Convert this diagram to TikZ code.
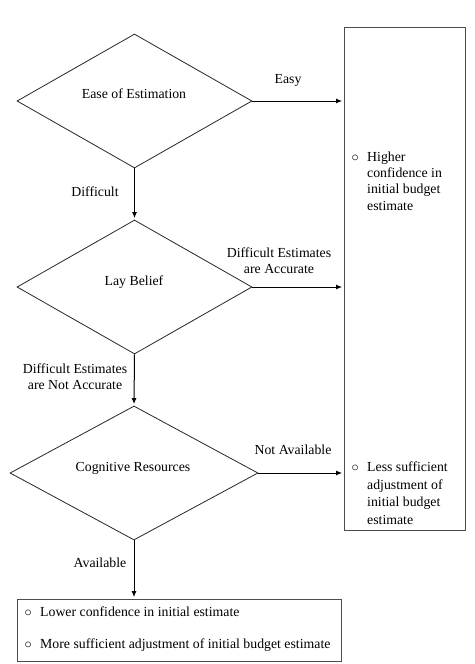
\documentclass[tikz,border=0pt]{standalone}
\usepackage{fontspec}
\setmainfont{Liberation Serif}
\usetikzlibrary{shapes.geometric,arrows.meta}
\newcommand{\bul}[1]{\makebox[#1][l]{$\circ$}}
\begin{document}
\begin{tikzpicture}[x=1pt,y=-1pt,
  font=\fontsize{13.8}{16.3}\selectfont,
  dia/.style={draw=black!85,line width=0.8pt,diamond,inner sep=0pt,minimum height=134pt},
  box/.style={draw=black!70,line width=0.8pt,rectangle,inner sep=0pt},
  arr/.style={line width=1pt,-{Latex[length=6pt,width=5pt]},shorten >=1.5pt},
  lbl/.style={inner sep=0pt,align=center},
  bl/.style={inner sep=0pt,anchor=base},
  btxt/.style={inner sep=0pt,align=left,anchor=north west}]
\useasboundingbox (0,0) rectangle (474,664);
% diamonds
\node[dia,minimum width=235pt] (d1) at (134.5,101) {};
\node[dia,minimum width=235pt] (d2) at (134.5,287) {};
\node[dia,minimum width=248pt] (d3) at (134,473) {};
\node[bl] (t1) at (134,98) {Ease of Estimation};
\node[bl] (t2) at (134,285) {Lay Belief};
\node[bl] (t3) at (133,471) {Cognitive Resources};
% boxes
\node[box,minimum width=121pt,minimum height=503pt] (rb) at (404.5,278.5) {};
\node[box,minimum width=324pt,minimum height=62pt] (bb) at (179,630) {};
% right box texts
\node[btxt] (r1) at (351.5,151.5) {\bul{15.5pt}Higher\\\hspace*{15.5pt}confidence in\\\hspace*{15.5pt}initial budget\\\hspace*{15.5pt}estimate};
\node[btxt,font=\fontsize{13.8}{17.6}\selectfont] (r2) at (351.5,461.6) {\bul{15.5pt}Less sufficient\\\hspace*{15.5pt}adjustment of\\\hspace*{15.5pt}initial budget\\\hspace*{15.5pt}estimate};
% bottom box texts
\node[bl,anchor=base west] (b1) at (24.5,616) {\bul{15.5pt}Lower confidence in initial estimate};
\node[bl,anchor=base west] (b2) at (24.5,648) {\bul{15.5pt}More sufficient adjustment of initial budget estimate};
% arrows
\draw[arr] (d1.east) -- (d1.east -| rb.west);
\draw[arr] (d2.east) -- (d2.east -| rb.west);
\draw[arr] (d3.east) -- (d3.east -| rb.west);
\draw[arr] (d1.south) -- (d2.north);
\draw[arr] (d2.south) -- (d3.north);
\draw[arr] (d3.south) -- (bb.north -| d3.south);
% labels
\node[bl] (l1) at (288,83) {Easy};
\node[bl] (l2) at (95,196) {Difficult};
\node[lbl] (l3) at (279,261) {Difficult Estimates\\are Accurate};
\node[lbl] (l4) at (75,377) {Difficult Estimates\\are Not Accurate};
\node[bl] (l5) at (293,454) {Not Available};
\node[bl] (l6) at (100,567) {Available};
\end{tikzpicture}
\end{document}
